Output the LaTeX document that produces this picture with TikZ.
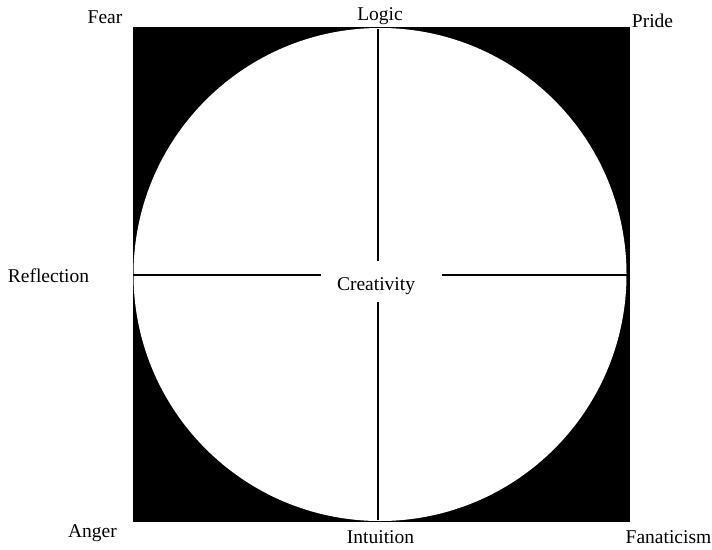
\documentclass[tikz,border=0pt]{standalone}
\usepackage{fontspec}
\setmainfont{Liberation Serif}
\begin{document}
\begin{tikzpicture}[x=1pt,y=-1pt,
  lbl/.style={anchor=base,inner sep=0pt,font=\fontsize{19.5}{23}\selectfont},
  axis/.style={line width=2pt,black}]
\useasboundingbox (0,0) rectangle (712,549);
% frame and circle
\fill[black] (133,27) rectangle (630,522);
\fill[white] (380,274.5) circle[radius=246.5];
% axis end points
\coordinate (top) at (378,29);
\coordinate (topin) at (378,260.7);
\coordinate (bot) at (378,520);
\coordinate (botin) at (378,301.7);
\coordinate (left) at (133,274.5);
\coordinate (leftin) at (320.7,274.5);
\coordinate (right) at (627,274.5);
\coordinate (rightin) at (441.7,274.5);
\draw[axis] (top) -- (topin);
\draw[axis] (botin) -- (bot);
\draw[axis] (left) -- (leftin);
\draw[axis] (rightin) -- (right);
% labels
\node[lbl] (fear) at (105,23) {Fear};
\node[lbl] (logic) at (380,20) {Logic};
\node[lbl] (pride) at (652.5,27) {Pride};
\node[lbl] (refl) at (48.5,282) {Reflection};
\node[lbl] (crea) at (376,290) {Creativity};
\node[lbl] (anger) at (92.5,537) {Anger};
\node[lbl] (intu) at (380.5,543) {Intuition};
\node[lbl] (fana) at (668.5,543) {Fanaticism};
\end{tikzpicture}
\end{document}
